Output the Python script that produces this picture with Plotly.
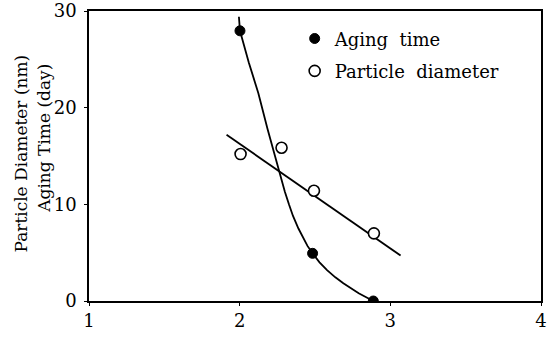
import plotly.graph_objects as go

# Aging time (day) measured at each x value
aging_x = [2.002, 2.484, 2.887]
aging_y = [27.95, 4.93, 0.0]

# Particle diameter (nm) measured at each x value
diam_x = [2.006, 2.278, 2.493, 2.891]
diam_y = [15.2, 15.85, 11.4, 7.0]

# Smooth trend curve through the aging-time points
aging_curve_x = [1.995, 2.002, 2.06, 2.124, 2.185, 2.245, 2.275, 2.30, 2.327, 2.354,
                 2.39, 2.42, 2.45, 2.484, 2.53, 2.58, 2.635, 2.688, 2.74, 2.79, 2.84, 2.887]
aging_curve_y = [29.4, 27.95, 24.7, 21.5, 17.8, 14.3, 12.7, 11.3, 10.0, 8.8,
                 7.5, 6.55, 5.7, 4.93, 4.0, 3.2, 2.45, 1.83, 1.28, 0.8, 0.38, 0.0]

# Straight trend line for particle diameter
diam_fit_x = [1.913, 3.068]
diam_fit_y = [17.2, 4.7]

x_ticks = [1, 2, 3, 4]
y_ticks = [0, 10, 20, 30]

FONT = "DejaVu Serif"
INK = "#000000"

fig = go.Figure()

fig.add_trace(go.Scatter(
    x=aging_curve_x, y=aging_curve_y, mode="lines",
    line=dict(color=INK, width=1.8),
    showlegend=False, hoverinfo="skip",
))
fig.add_trace(go.Scatter(
    x=diam_fit_x, y=diam_fit_y, mode="lines",
    line=dict(color=INK, width=1.8),
    showlegend=False, hoverinfo="skip",
))
fig.add_trace(go.Scatter(
    x=aging_x, y=aging_y, mode="markers", name="Aging\u00a0 time",
    marker=dict(symbol="circle", size=10, color=INK, line=dict(color=INK, width=1)),
    legendgroup="a",
))
fig.add_trace(go.Scatter(
    x=diam_x, y=diam_y, mode="markers", name="Particle\u00a0 diameter",
    marker=dict(symbol="circle", size=11, color="white", line=dict(color=INK, width=1.6)),
    legendgroup="b",
))

axis_common = dict(
    showgrid=False, zeroline=False, showline=True, linecolor=INK, linewidth=1.6,
    mirror=True, ticks="outside", ticklen=3, tickcolor=INK, tickwidth=1.2,
    tickfont=dict(family=FONT, size=18, color=INK), automargin=False,
)

fig.update_xaxes(range=[1, 4], tickvals=x_ticks, **axis_common)
fig.update_yaxes(range=[0, 30], tickvals=y_ticks, ticklabelstandoff=4, **axis_common)

# Two-line rotated y-axis title
fig.add_annotation(
    text="Particle Diameter (nm)", xref="paper", yref="paper",
    x=-0.176, y=0.51, textangle=-90, showarrow=False,
    font=dict(family=FONT, size=17, color=INK),
)
fig.add_annotation(
    text="Aging Time (day)", xref="paper", yref="paper",
    x=-0.128, y=0.56, textangle=-90, showarrow=False,
    font=dict(family=FONT, size=17, color=INK),
)

fig.update_layout(
    width=552, height=339,
    margin=dict(l=89, r=11, t=11, b=38),
    paper_bgcolor="white", plot_bgcolor="white",
    legend=dict(
        x=0.455, y=0.968, xanchor="left", yanchor="top",
        font=dict(family=FONT, size=18, color=INK),
        bgcolor="rgba(0,0,0,0)", tracegroupgap=6,
    ),
)

fig.write_html("out.html")
